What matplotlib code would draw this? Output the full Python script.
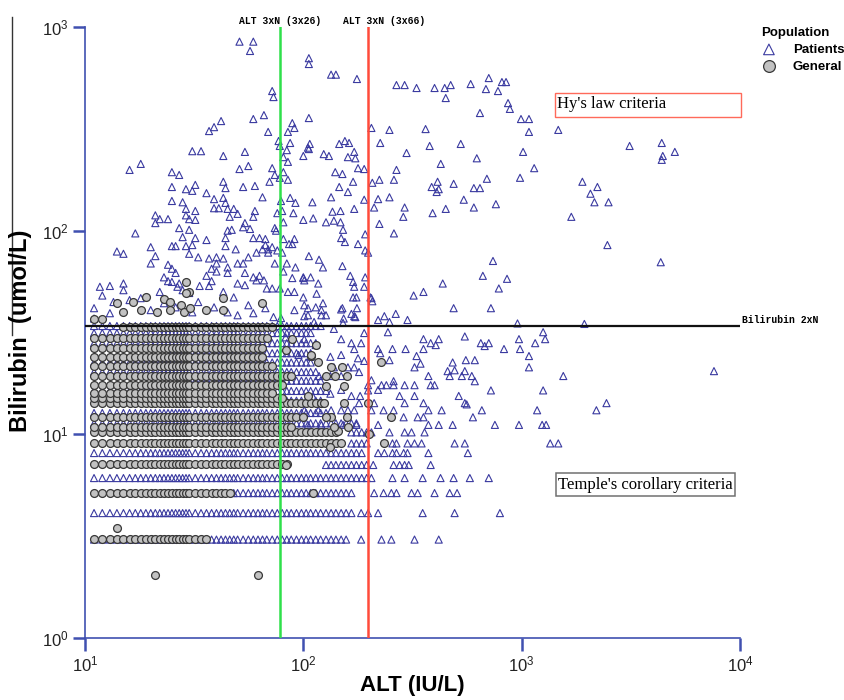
import matplotlib
matplotlib.use("Agg")
import matplotlib.pyplot as plt
from matplotlib.lines import Line2D
from matplotlib.patches import Rectangle
from matplotlib.ticker import NullLocator
import matplotlib.transforms as mtransforms

plt.rcParams['font.family'] = ['Liberation Sans', 'DejaVu Sans']

# ALT values (IU/L) as recorded at low range (integer lab values, thinned where markers overlap)
alt_grid = [11, 12, 13, 14, 15, 16, 17, 18, 19, 20, 21, 22, 23, 24, 25, 26, 27, 28, 29, 30,
            32, 34, 36, 38, 40, 42, 44, 46, 48, 50, 53, 56, 59, 62, 65, 68, 72, 76, 80, 84,
            88, 93, 98, 103, 108, 114, 120, 127, 134, 141, 149, 157, 166, 175, 185, 195]

# dense rows of the General population: bilirubin level, ALT range covered
gen_row_bili = [3.05, 5.15, 7.1, 9.0, 10.2, 10.8, 12.1, 14.2, 15.0, 15.9, 17.4, 19.3, 21.6,
                23.9, 26.5, 29.7, 33.6]
gen_row_lo = [11, 11, 11, 11, 11, 11, 11, 11, 11, 11, 11, 11, 11, 11, 11, 11, 15]
gen_row_hi = [36, 46, 84, 149, 141, 88, 93, 120, 80, 72, 80, 88, 72, 65, 65, 68, 72]

# isolated General points (ALT, bilirubin)
gen_sparse = [(21, 2.03), (62, 2.03), (14, 3.45), (11, 37), (12, 37), (29, 56), (30, 50),
              (29, 49.4), (36, 40.7), (43, 40.7), (65, 44), (43, 46.6), (23, 46), (19, 47),
              (14, 44), (16.6, 44.6), (24.6, 44.6), (27.4, 43), (15, 39.7), (18, 40.7),
              (21.4, 39.7), (24.6, 40.7), (28.3, 39.7), (30.4, 41.6),
              (89, 29.3), (83, 26), (108, 24.2), (117, 22.5), (134, 21.3), (151, 21.3),
              (228, 22.5), (127, 19.3), (140, 19.3), (158, 19.3), (153, 17.2), (127, 17.2),
              (105, 15.4), (121, 14.2), (124, 14.2), (153, 14.2), (198, 14.2), (253, 12.1),
              (100, 12.1), (134, 12.1), (158, 12.1), (127, 12.1), (144, 10.3), (138, 10.8),
              (160, 10.8), (200, 10.0), (235, 9.0), (133, 8.6), (111, 5.13), (83, 7.05),
              (114, 27.4), (108, 24.5)]

# dense rows of the Patients population
pat_row_bili = [3.03, 4.09, 5.13, 6.08, 7.05, 8.07, 9.0, 10.2, 11.3, 12.7, 14.6, 16.3, 18.3,
                20.2, 22.5, 25.0, 28.0, 31.4, 34.0]
pat_row_lo = [11, 11, 48, 11, 127, 11, 166, 166, 11, 11, 30, 11, 30, 11, 11, 25, 11, 11, 11]
pat_row_hi = [157, 166, 166, 195, 195, 185, 195, 195, 175, 127, 120, 127, 120, 114, 108, 108,
              114, 108, 120]

# Patients above the 2xN bilirubin line (ALT, bilirubin)
pat_upper = [
    (51, 850), (59, 850), (57, 765), (106, 705), (106, 660), (134, 585), (141, 585), (176, 557),
    (267, 520), (291, 520), (330, 503), (72, 486), (73, 454), (66, 370), (59, 354), (42, 346),
    (39, 323), (37, 309), (106, 358), (89, 338), (91, 320), (69, 306), (85, 306), (205, 320),
    (248, 313), (77, 276), (87, 270), (78, 261), (107, 267), (146, 267), (155, 276), (162, 270),
    (225, 270), (31, 246), (34, 246), (54, 244), (84, 249), (106, 252), (124, 238), (131, 233),
    (171, 244), (160, 230), (173, 227), (297, 241), (43, 233), (100, 233), (81, 230), (85, 218),
    (18, 213), (16, 199), (51, 201), (56, 208), (72, 203), (81, 194), (74, 188), (78, 182),
    (140, 194), (151, 190), (178, 203), (190, 201), (267, 199), (25, 194), (27, 188), (43, 174),
    (53, 164), (60, 166), (70, 174), (85, 178), (169, 174), (207, 172), (223, 178), (260, 178),
    (25, 164), (29, 160), (32, 168), (31, 157), (36, 153), (44, 162), (146, 164), (160, 155),
    (25, 140), (28, 138), (39, 143), (43, 145), (39, 129), (41, 129), (44, 137), (45, 128),
    (48, 128), (65, 146), (79, 140), (87, 145), (92, 137), (110, 138), (134, 146), (190, 142),
    (220, 143), (248, 146), (29, 128), (32, 125), (29, 119), (30, 114), (32, 113), (46, 117),
    (50, 121), (60, 125), (59, 117), (76, 122), (80, 125), (90, 122), (81, 110), (100, 113),
    (111, 115), (127, 110), (136, 124), (148, 125), (138, 112), (148, 110), (171, 128),
    (211, 130), (223, 108), (291, 130), (287, 117), (21, 119), (21, 109), (22, 114), (24, 114),
    (17, 97), (27, 103), (32, 92), (45, 100), (47, 101), (44, 92), (54, 109), (53, 104),
    (57, 102), (59, 92), (63, 92), (74, 103), (75, 100), (81, 91), (91, 91), (152, 101),
    (192, 96), (260, 97), (149, 92),
    (399, 503), (444, 503), (473, 520), (449, 449), (584, 526), (707, 563), (686, 497),
    (812, 538), (848, 538), (779, 486), (866, 424), (883, 397), (644, 379), (993, 354),
    (1080, 354), (1080, 306), (1471, 313), (363, 316), (379, 261), (526, 267), (623, 227),
    (1015, 244), (426, 213), (1141, 203), (412, 174), (387, 164), (417, 160), (408, 155),
    (488, 170), (604, 162), (644, 162), (693, 180), (983, 182), (543, 142), (604, 130),
    (762, 135), (449, 128), (391, 122), (1688, 117), (1897, 174), (2223, 164), (2065, 152),
    (2154, 138), (2499, 138), (3122, 261), (4381, 270), (5029, 244), (4429, 233), (4381, 223),
    (4335, 70), (2470, 85),
    (105, 256), (155, 88), (178, 86), (192, 80), (198, 78), (106, 75), (118, 72), (123, 66),
    (100, 59), (101, 57), (117, 55), (151, 67), (164, 60), (169, 56), (171, 53), (190, 53),
    (192, 59), (115, 49), (100, 47), (123, 44), (114, 42), (105, 41.6), (101, 43), (169, 47),
    (175, 47), (151, 41.6), (176, 41.6), (203, 47), (207, 45), (166, 39), (173, 37.6),
    (235, 38), (265, 39), (320, 48), (355, 50), (435, 55), (488, 41.6), (664, 60), (739, 71),
    (857, 58), (786, 52), (723, 41.6),
    (67, 85), (65, 81), (69, 81), (61, 78), (69, 78), (72, 83), (76, 80), (80, 78), (86, 86),
    (89, 86), (25, 84), (26, 84), (29, 84), (31, 85), (36, 90), (44, 84), (49, 81), (20, 83),
    (14, 79), (15, 77), (21, 75), (20, 69), (30, 77), (33, 74), (37, 73), (40, 74), (43, 73),
    (24, 68), (25, 65), (26, 62), (23, 59), (24, 56.5), (25, 56), (40, 69), (38, 65), (40, 63),
    (45, 66), (45, 62), (50, 69), (53, 69), (56, 74), (54, 62), (59, 59), (63, 60), (66, 57),
    (74, 69), (84, 69), (92, 66), (81, 63), (89, 58.5), (100, 58.5), (108, 59), (13, 53.5),
    (15, 55), (12, 48), (15, 51), (27, 55), (36, 60), (38, 56.5), (28, 51), (30, 49.4),
    (33.5, 53.5), (37, 53.5), (50, 55), (54, 54), (61, 57), (68, 52), (72, 52), (78, 52),
    (85, 50), (91, 50), (30, 101), (28, 93), (67, 91),
    (11, 41.6), (11, 37), (13, 39.3), (13.5, 44.6), (16, 45.6), (18, 46.6), (20, 40.7),
    (23, 44), (26, 42), (31, 39.7), (33, 44.6), (39, 42), (45, 39.7), (50, 38.4), (56, 43),
    (59, 39.3), (67, 41.6), (73, 37.6), (79, 37.2), (91, 40.7), (105, 38.4), (112, 35.6),
    (121, 40.7), (127, 38.4), (149, 41), (171, 38), (153, 37), (205, 46.6), (43, 50), (48, 47),
    (26.5, 53), (22, 50), (11.7, 53), (300, 36.4), (220, 36.4), (248, 35.6), (152, 35.2),
    (121, 38.4), (101, 38), (957, 35), (1937, 34.8),
]

# Patients below the 2xN bilirubin line, outside the dense rows
pat_lower = [
    (138, 32.9), (190, 31.4), (244, 31.7), (1254, 31.7), (355, 29.3), (417, 29.3), (383, 28),
    (549, 30.2), (650, 28), (707, 28), (972, 29.3), (1153, 28), (1281, 29.3), (83, 29.9),
    (101, 29.3), (149, 29.3), (166, 28), (184, 28), (114, 27.4), (404, 27.4), (677, 27.1),
    (171, 26.2), (220, 26.2), (256, 26.2), (294, 26.2), (355, 26.2), (830, 26.2), (983, 26.2),
    (1080, 24.2), (330, 24.2), (248, 23.1), (225, 25), (555, 23.1), (610, 23.1), (95, 24.5),
    (108, 24), (133, 24), (149, 24.5), (178, 23.6), (190, 22.9),
    (483, 22.5), (323, 21.3), (344, 22.2), (1080, 21.3), (458, 20.4), (493, 20.6), (549, 20.4),
    (374, 19.3), (468, 19.3), (532, 19.3), (591, 19.3), (610, 18.2), (1551, 19.3), (7600, 20.4),
    (259, 18.2), (180, 20.2), (205, 18.4), (228, 17.4), (198, 17.4), (133, 19.3), (149, 19.3),
    (118, 19.3), (138, 21.3), (160, 21.3), (171, 21.3),
    (240, 17.4), (259, 17.4), (291, 17.4), (323, 17.4), (383, 17.4), (399, 17.4), (723, 16.4),
    (1254, 16.4), (515, 15.4), (323, 15.4), (276, 15.4), (198, 16.4), (220, 16.5), (166, 15.4),
    (182, 15.4), (149, 16.5), (133, 15.8), (111, 15.2),
    (549, 14.2), (657, 13.1), (1177, 13.1), (374, 13.1), (430, 13.1), (355, 14.2), (291, 14.2),
    (259, 13.1), (233, 13.1), (211, 14.2), (205, 13.1), (180, 14.2), (171, 13.1), (160, 13.1),
    (149, 13.1), (134, 13.1), (117, 13.1), (101, 13.1), (2199, 13.1), (2446, 14.2), (288, 12.1),
    (334, 12.1), (355, 12.1), (598, 12.1), (560, 14),
    (220, 11.1), (374, 11.1), (417, 11.1), (483, 11.1), (754, 11.1), (972, 11.1), (1241, 11.1),
    (1294, 11.1), (175, 11.1), (152, 11.1), (121, 11.1), (105, 11.1),
    (248, 10.2), (291, 10.2), (313, 10.2), (359, 10.2), (205, 10.2),
    (256, 9), (267, 9), (300, 9), (323, 9), (348, 9), (493, 9), (549, 9), (1351, 9), (1471, 9),
    (220, 8.07), (235, 8.07), (256, 8.07), (267, 8.07), (288, 8.07), (300, 8.07), (374, 8.07),
    (567, 8.07),
    (209, 7.05), (259, 7.05), (276, 7.05), (291, 7.05), (304, 7.05), (383, 7.05),
    (205, 6.08), (256, 6.08), (291, 6.08), (352, 6.08), (425, 6.08), (488, 6.08), (579, 6.08),
    (707, 6.08),
    (211, 5.13), (233, 5.13), (253, 5.13), (267, 5.13), (313, 5.13), (334, 5.13), (399, 5.13),
    (468, 5.13), (506, 5.13),
    (184, 4.09), (198, 4.09), (220, 4.09), (352, 4.09), (493, 4.09), (795, 4.09),
    (184, 3.03), (228, 3.03), (253, 3.03), (323, 3.03), (417, 3.03),
]

# reference limits
alt_3xn_low = 78      # 3 x 26
alt_3xn_high = 198    # 3 x 66
bili_2xn = 34         # 2 x 17


def expand_rows(bili, lo, hi):
    xs, ys = [], []
    for b, a0, a1 in zip(bili, lo, hi):
        for a in alt_grid:
            if a0 <= a <= a1:
                xs.append(a)
                ys.append(b)
    return xs, ys


gx, gy = expand_rows(gen_row_bili, gen_row_lo, gen_row_hi)
gx += [p[0] for p in gen_sparse]
gy += [p[1] for p in gen_sparse]

px, py = expand_rows(pat_row_bili, pat_row_lo, pat_row_hi)
px += [p[0] for p in pat_upper + pat_lower]
py += [p[1] for p in pat_upper + pat_lower]

W, H = 844, 700
fig = plt.figure(figsize=(W / 100, H / 100), dpi=100)
ax = fig.add_axes([85 / W, 1 - 637.5 / H, 655 / W, 610.2 / H])

tri_col = '#3a3aa0'
axis_col = '#4050b0'

ax.scatter(px, py, marker='^', s=26, facecolors='none', edgecolors=tri_col,
           linewidths=0.8, zorder=2, label='Patients')
ax.scatter(gx, gy, marker='o', s=32, facecolors='#c2c2c2', edgecolors='#383838',
           linewidths=0.9, zorder=3, label='General')

ax.axvline(alt_3xn_low, color='#2fe04a', lw=1.8, zorder=4)
ax.axvline(alt_3xn_high, color='#ff4a3a', lw=1.8, zorder=4)
ax.axhline(bili_2xn, color='#111111', lw=1.6, zorder=4)

ax.set_xscale('log')
ax.set_yscale('log')
ax.set_xlim(10, 1e4)
ax.set_ylim(1, 1e3)
ax.xaxis.set_minor_locator(NullLocator())
ax.yaxis.set_minor_locator(NullLocator())

for side in ['top', 'right']:
    ax.spines[side].set_visible(False)
for side in ['left', 'bottom']:
    ax.spines[side].set_color(axis_col)
    ax.spines[side].set_linewidth(1.2)
ax.tick_params(axis='both', which='major', direction='out', length=9, width=1.8,
               color=axis_col, labelsize=12, labelcolor='#222222', pad=3)

fig.text(412 / W, 1 - 686 / H, 'ALT (IU/L)', fontsize=16, fontweight='bold',
         ha='center', va='center')
fig.text(21 / W, 1 - 331 / H, 'Bilirubin  (umol/L)', fontsize=17, fontweight='bold',
         rotation=90, ha='center', va='center')

# reference line labels
top = mtransforms.blended_transform_factory(ax.transData, ax.transAxes)
ax.text(alt_3xn_low, 1.011, 'ALT 3xN (3x26)', transform=top, ha='center', va='center',
        family='Liberation Mono', fontweight='bold', fontsize=7, clip_on=False)
ax.text(234, 1.011, 'ALT 3xN (3x66)', transform=top, ha='center', va='center',
        family='Liberation Mono', fontweight='bold', fontsize=7, clip_on=False)
right = mtransforms.blended_transform_factory(ax.transAxes, ax.transData)
ax.text(1.003, 36.3, 'Bilirubin 2xN', transform=right, ha='left', va='center',
        family='Liberation Mono', fontweight='bold', fontsize=7, clip_on=False)

# criteria boxes
ax.add_patch(Rectangle((0.7176, 0.853), 0.2839, 0.0393, transform=ax.transAxes,
                       fill=False, edgecolor='#ff6a5a', lw=1.0, clip_on=False, zorder=5))
ax.text(0.7205, 0.8735, "Hy's law criteria", transform=ax.transAxes, ha='left', va='center',
        family='Liberation Serif', fontsize=12, zorder=5)
ax.add_patch(Rectangle((0.719, 0.2319), 0.273, 0.0377, transform=ax.transAxes,
                       facecolor='white', edgecolor='#707070', lw=1.1, zorder=5))
ax.text(0.7215, 0.2505, "Temple's corollary criteria", transform=ax.transAxes, ha='left',
        va='center', family='Liberation Serif', fontsize=12, zorder=6)

leg = ax.legend(title='Population', loc='upper left', bbox_to_anchor=(761 / W, 1 - 27 / H),
                bbox_transform=fig.transFigure, frameon=False,
                prop={'weight': 'bold', 'size': 9.5},
                title_fontproperties={'weight': 'bold', 'size': 9.5},
                alignment='left', markerscale=1.5, handlelength=1.2, handletextpad=1.2,
                labelspacing=0.35, borderpad=0, borderaxespad=0)

# thin rule at the left edge of the original figure
fig.add_artist(Line2D([12.3 / W, 12.3 / W], [1 - 17 / H, 1 - 335 / H],
                      transform=fig.transFigure, color='#333333', lw=1.0))

fig.savefig('out.png', dpi=100)
